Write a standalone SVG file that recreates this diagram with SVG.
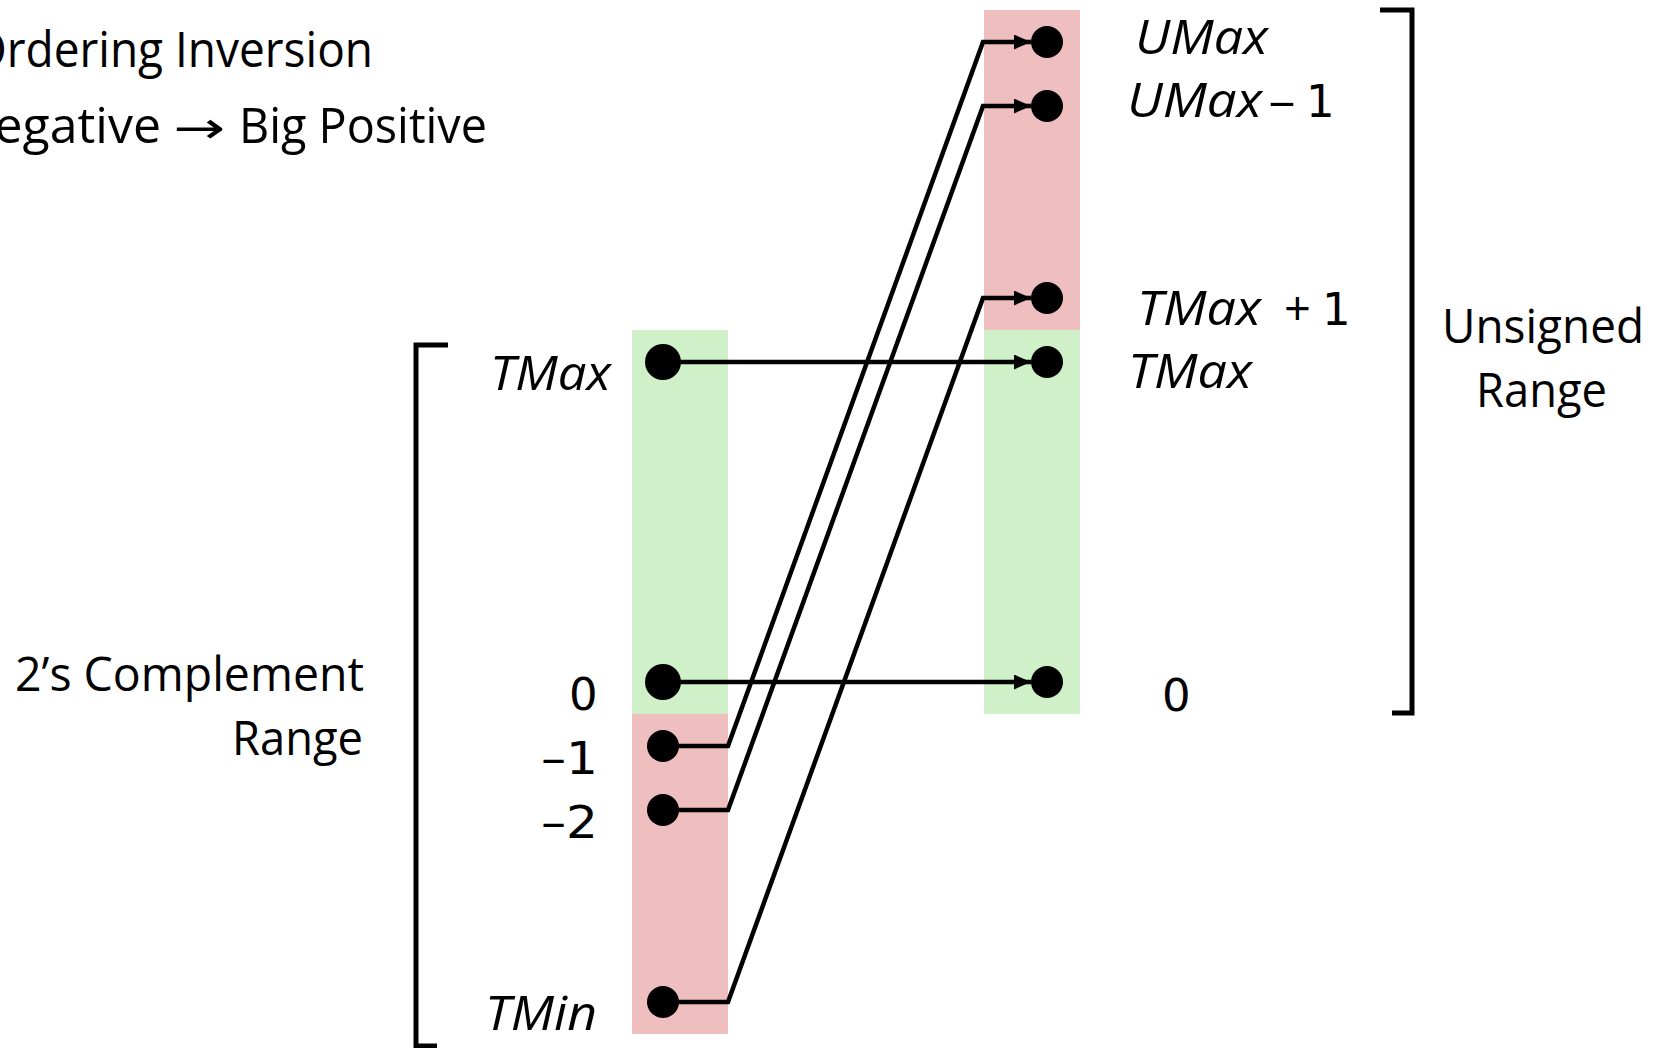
<svg xmlns="http://www.w3.org/2000/svg" width="1658" height="1048" viewBox="0 0 1658 1048">
  <style>
    text { font-family: "Open Sans", "Liberation Sans", sans-serif; fill: #000; }
    .title { font-size: 50px; }
    .lbl { font-size: 47px; }
    .num { font-family: "DejaVu Sans", "Open Sans", sans-serif; font-size: 45px; }
    .it { font-style: italic; }
    .conn { fill: none; stroke: #000; stroke-width: 4.5; stroke-linejoin: miter; }
    .brk { fill: none; stroke: #000; stroke-width: 5; stroke-linejoin: miter; }
    .dot { fill: #000; }
    .neg { fill: #EFBEBE; }
    .pos { fill: #CFF0C9; }
  </style>
  <defs>
    <marker id="ah" viewBox="0 0 17 15" refX="17" refY="7.5" markerWidth="17" markerHeight="15" markerUnits="userSpaceOnUse" orient="auto">
      <path d="M0,0 L17,7.5 L0,15 z" fill="#000"/>
    </marker>
  </defs>
  <rect width="1658" height="1048" fill="#fff"/>

  <g id="title">
    <text class="title" x="-29" y="67" textLength="402" lengthAdjust="spacingAndGlyphs">Ordering Inversion</text>
    <text class="title" x="161" y="143" text-anchor="end">Negative</text>
    <text class="title" x="173" y="143" textLength="52" lengthAdjust="spacingAndGlyphs" style="font-family: 'DejaVu Sans', sans-serif; font-size: 44px;">→</text>
    <text class="title" x="239" y="143" textLength="248" lengthAdjust="spacingAndGlyphs">Big Positive</text>
  </g>

  <g id="columns">
    <rect class="pos" x="632" y="330" width="96" height="384"/>
    <rect class="neg" x="632" y="714" width="96" height="320"/>
    <rect class="neg" x="984" y="10" width="96" height="320"/>
    <rect class="pos" x="984" y="330" width="96" height="384"/>
  </g>

  <g id="brackets">
    <path class="brk" d="M448,345 L416,345 L416,1046 L437,1046"/>
    <path class="brk" d="M1380,10 L1412,10 L1412,713 L1392,713"/>
  </g>

  <g id="range-labels">
    <text class="lbl" x="15" y="691" textLength="349" lengthAdjust="spacingAndGlyphs">2’s Complement</text>
    <text class="lbl" x="232" y="755" textLength="131" lengthAdjust="spacingAndGlyphs">Range</text>
    <text class="lbl" x="1442" y="343" textLength="202" lengthAdjust="spacingAndGlyphs">Unsigned</text>
    <text class="lbl" x="1476" y="407" textLength="131" lengthAdjust="spacingAndGlyphs">Range</text>
  </g>

  <g id="connectors">
    <path class="conn" d="M663,362 L1031,362" marker-end="url(#ah)"/>
    <path class="conn" d="M663,682 L1031,682" marker-end="url(#ah)"/>
    <path class="conn" d="M663,746 L728,746 L983,42 L1031,42" marker-end="url(#ah)"/>
    <path class="conn" d="M663,810 L728,810 L983,106 L1031,106" marker-end="url(#ah)"/>
    <path class="conn" d="M663,1002 L728,1002 L983,298 L1031,298" marker-end="url(#ah)"/>
  </g>

  <g id="l-tmax">
    <circle class="dot" cx="663" cy="362" r="18"/>
    <text class="lbl it" x="490" y="390" textLength="121" lengthAdjust="spacingAndGlyphs">TMax</text>
  </g>
  <g id="l-zero">
    <circle class="dot" cx="663" cy="682" r="18"/>
    <text class="num" x="569" y="710">0</text>
  </g>
  <g id="l-m1">
    <circle class="dot" cx="663" cy="746" r="16"/>
    <text class="num" x="541" y="774" textLength="57" lengthAdjust="spacingAndGlyphs">–1</text>
  </g>
  <g id="l-m2">
    <circle class="dot" cx="663" cy="810" r="16"/>
    <text class="num" x="541" y="838" textLength="57" lengthAdjust="spacingAndGlyphs">–2</text>
  </g>
  <g id="l-tmin">
    <circle class="dot" cx="663" cy="1002" r="16"/>
    <text class="lbl it" x="485" y="1030" textLength="112" lengthAdjust="spacingAndGlyphs">TMin</text>
  </g>

  <g id="r-umax">
    <circle class="dot" cx="1047" cy="42" r="16"/>
    <text class="lbl it" x="1135" y="54" textLength="133" lengthAdjust="spacingAndGlyphs">UMax</text>
  </g>
  <g id="r-umax-1">
    <circle class="dot" cx="1047" cy="106" r="16"/>
    <text class="lbl it" x="1127" y="117" textLength="135" lengthAdjust="spacingAndGlyphs">UMax</text>
    <text class="num" x="1268" y="117" textLength="28" lengthAdjust="spacingAndGlyphs">–</text>
    <text class="num" x="1306" y="117">1</text>
  </g>
  <g id="r-tmax1">
    <circle class="dot" cx="1047" cy="298" r="16"/>
    <text class="lbl it" x="1137" y="325" textLength="124" lengthAdjust="spacingAndGlyphs">TMax</text>
    <text class="lbl" x="1284" y="325">+</text>
    <text class="num" x="1322" y="325">1</text>
  </g>
  <g id="r-tmax">
    <circle class="dot" cx="1047" cy="362" r="16"/>
    <text class="lbl it" x="1128" y="388" textLength="124" lengthAdjust="spacingAndGlyphs">TMax</text>
  </g>
  <g id="r-zero">
    <circle class="dot" cx="1047" cy="682" r="16"/>
    <text class="num" x="1162" y="711">0</text>
  </g>
</svg>
